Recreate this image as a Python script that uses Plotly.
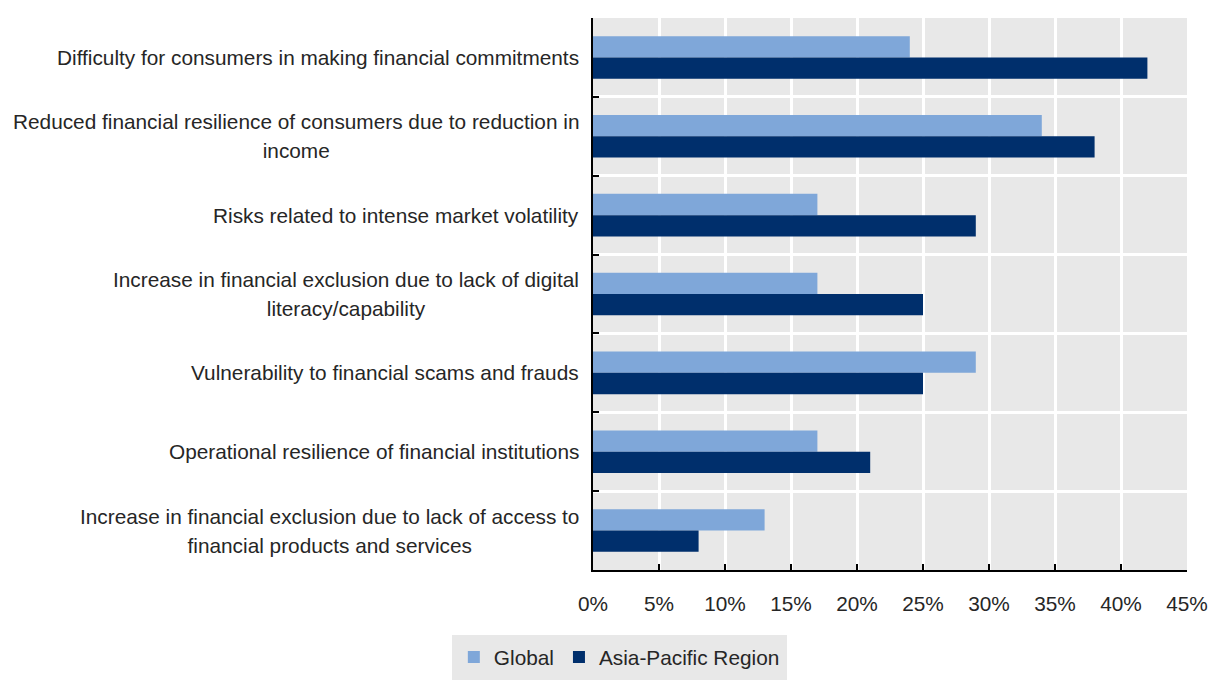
import plotly.graph_objects as go

categories = [
    "Difficulty for consumers in making financial commitments",
    "Reduced financial resilience of consumers due to reduction in<br>income",
    "Risks related to intense market volatility",
    "Increase in financial exclusion due to lack of digital<br>literacy/capability",
    "Vulnerability to financial scams and frauds",
    "Operational resilience of financial institutions",
    "Increase in financial exclusion due to lack of access to<br>financial products and services",
]
global_vals = [24, 34, 17, 17, 29, 17, 13]
apac_vals = [42, 38, 29, 25, 25, 21, 8]
x_ticks = [0, 5, 10, 15, 20, 25, 30, 35, 40, 45]
x_ticktext = [f"{v}%" for v in x_ticks]

FONT = "Liberation Sans, Arial, sans-serif"
FS = 20.8
TEXT_COLOR = "#262626"
LIGHT = "#7FA7D9"
DARK = "#002F6C"
PANEL = "#E8E8E8"

keys = [f"c{i}" for i in range(len(categories))]

fig = go.Figure()
fig.add_trace(go.Bar(
    y=keys, x=global_vals, orientation="h", name="Global",
    marker=dict(color=LIGHT, line=dict(width=0)),
))
fig.add_trace(go.Bar(
    y=keys, x=apac_vals, orientation="h", name="Asia-Pacific Region",
    marker=dict(color=DARK, line=dict(width=0)),
))

# category labels: centred lines, right-aligned block next to the axis
for k, label in zip(keys, categories):
    fig.add_annotation(
        x=0, xref="paper", xanchor="right", xshift=-12,
        y=k, yref="y", yanchor="middle",
        text=f"<span style='font-size:{FS}px'>{label}</span>",
        align="center", showarrow=False,
        font=dict(family=FONT, size=22, color=TEXT_COLOR),
    )

fig.update_layout(
    width=1212, height=680,
    margin=dict(l=593, r=25, t=18, b=110),
    paper_bgcolor="white",
    plot_bgcolor=PANEL,
    barmode="group",
    bargap=0.46,
    bargroupgap=0,
    font=dict(family=FONT, size=FS, color=TEXT_COLOR),
    showlegend=True,
    legend=dict(
        orientation="h",
        xref="container", yref="container",
        x=0.511, xanchor="center", y=0.0, yanchor="bottom",
        bgcolor=PANEL, bordercolor=PANEL, borderwidth=2,
        font=dict(family=FONT, size=FS, color=TEXT_COLOR),
        itemwidth=30, traceorder="normal",
    ),
    xaxis=dict(
        range=[0, 45], tickvals=x_ticks, ticktext=x_ticktext,
        automargin=False, ticklabeloverflow="allow",
        showgrid=True, gridcolor="white", gridwidth=2.5,
        zeroline=False,
        showline=True, linecolor="black", linewidth=2,
        ticks="inside", ticklen=6, tickwidth=2, tickcolor="black",
        ticklabelstandoff=14,
        tickfont=dict(family=FONT, size=FS, color=TEXT_COLOR),
    ),
    yaxis=dict(
        categoryorder="array", categoryarray=keys,
        autorange="reversed",
        automargin=False,
        tickson="boundaries",
        showgrid=True, gridcolor="white", gridwidth=2.5,
        showline=True, linecolor="black", linewidth=2,
        ticks="inside", ticklen=6, tickwidth=2, tickcolor="black",
        showticklabels=False,
    ),
)

fig.write_html("out.html")
